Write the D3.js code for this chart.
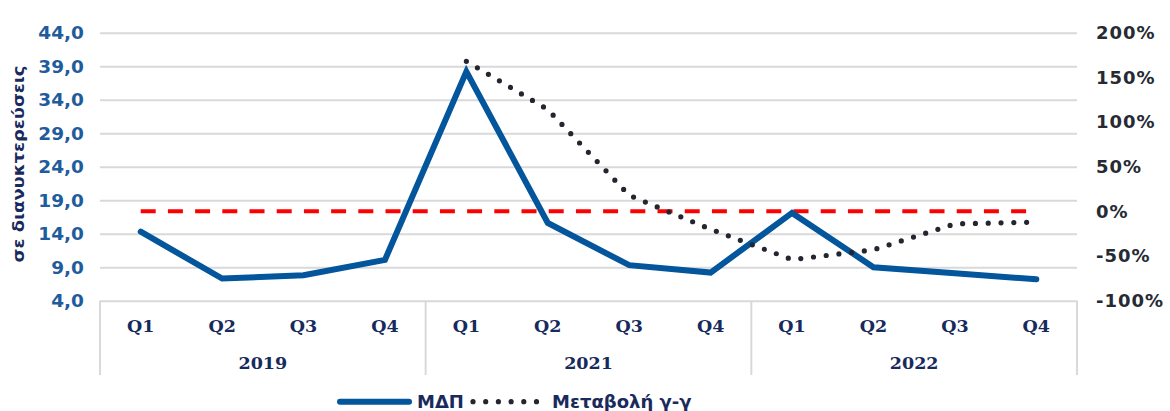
<!DOCTYPE html>
<html>
<head>
<meta charset="utf-8">
<script src="https://cdn.jsdelivr.net/npm/d3@7"></script>
<style>
  html, body { margin: 0; padding: 0; background: #ffffff; }
  svg { display: block; }
</style>
</head>
<body>
<svg id="chart" width="1170" height="411"></svg>
<script>
// ---- data ----
const quarters = ["Q1","Q2","Q3","Q4","Q1","Q2","Q3","Q4","Q1","Q2","Q3","Q4"];
const years = ["2019","2021","2022"];
const mdp = [14.3, 7.3, 7.8, 10.1, 38.2, 15.6, 9.3, 8.2, 17.1, 9.0, 8.1, 7.2];
const yoy = [null, null, null, null, 1.68, 1.14, 0.18, -0.20, -0.54, -0.43, -0.14, -0.12];
const zeroRef = [0, 0, 0, 0, 0, 0, 0, 0, 0, 0, 0, 0];
const leftTicks = [4, 9, 14, 19, 24, 29, 34, 39, 44];
const rightTicks = [-1, -0.5, 0, 0.5, 1, 1.5, 2];
const yTitle = "σε διανυκτερεύσεις";
const legendNames = ["ΜΔΠ", "Μεταβολή γ-γ"];

// ---- layout ----
const L = 100, R = 1077, T = 32.7, B = 300.7;
const svg = d3.select("#chart");
const idx = d3.range(quarters.length);

const x = d3.scaleBand().domain(idx).range([L, R]).padding(0);
const cx = i => x(i) + x.bandwidth() / 2;
const yL = d3.scaleLinear().domain([4, 44]).range([B, T]);
const yR = d3.scaleLinear().domain([-1, 2]).range([B, T]);

const gridColor = "#d9d9d9";

// gridlines
const grid = svg.append("g")
  .attr("transform", `translate(${L},0)`)
  .call(d3.axisLeft(yL).tickValues(leftTicks).tickSize(-(R - L)).tickFormat(""));
grid.select(".domain").remove();
grid.selectAll("line").attr("stroke", gridColor).attr("stroke-width", 2);

// left axis labels
const fmtL = d => d3.format(".1f")(d).replace(".", ",");
const axL = svg.append("g")
  .attr("transform", `translate(${L},0)`)
  .call(d3.axisLeft(yL).tickValues(leftTicks).tickSize(0).tickPadding(16).tickFormat(fmtL));
axL.select(".domain").remove();
axL.selectAll("text")
  .attr("font-family", "'DejaVu Sans', Verdana, sans-serif")
  .attr("font-weight", "bold")
  .attr("font-size", "18.5px")
  .attr("fill", "#1f5c9c");

// right axis labels
const fmtR = d => Math.round(d * 100) + "%";
const axR = svg.append("g")
  .attr("transform", `translate(${R},0)`)
  .call(d3.axisRight(yR).tickValues(rightTicks).tickSize(0).tickPadding(19).tickFormat(fmtR));
axR.select(".domain").remove();
axR.selectAll("text")
  .attr("font-family", "'DejaVu Sans', Verdana, sans-serif")
  .attr("font-weight", "bold")
  .attr("font-size", "18px")
  .attr("letter-spacing", "1px")
  .attr("fill", "#262a33");

// category axis box (multi-level)
const axisBottom = 375;
const seps = [0, 4, 8, 12].map(i => i < 12 ? x(i) : R);
svg.append("g").selectAll("line").data(seps).join("line")
  .attr("x1", d => d).attr("x2", d => d)
  .attr("y1", B).attr("y2", axisBottom)
  .attr("stroke", gridColor).attr("stroke-width", 2);

svg.append("g").selectAll("text").data(idx).join("text")
  .attr("x", cx).attr("y", 332)
  .attr("text-anchor", "middle")
  .attr("font-family", "'DejaVu Serif', serif")
  .attr("font-weight", "bold")
  .attr("font-size", "17.5px")
  .attr("fill", "#172a5c")
  .text(i => quarters[i]);

svg.append("g").selectAll("text").data(years).join("text")
  .attr("x", (d, j) => (x(j * 4) + x(j * 4 + 3) + x.bandwidth()) / 2)
  .attr("y", 369)
  .attr("text-anchor", "middle")
  .attr("font-family", "'DejaVu Serif', serif")
  .attr("font-weight", "bold")
  .attr("font-size", "17.5px")
  .attr("fill", "#172a5c")
  .text(d => d);

// y axis title
svg.append("text")
  .attr("transform", `translate(24,164) rotate(-90)`)
  .attr("text-anchor", "middle")
  .attr("font-family", "'DejaVu Sans', Verdana, sans-serif")
  .attr("font-weight", "bold")
  .attr("font-size", "16px")
  .attr("fill", "#1b2a5c")
  .attr("textLength", 197)
  .attr("lengthAdjust", "spacingAndGlyphs")
  .text(yTitle);

// zero reference (red dashed) on right axis
const lineR = d3.line().defined(d => d[1] != null).x(d => cx(d[0])).y(d => yR(d[1]));
const lineL = d3.line().x(d => cx(d[0])).y(d => yL(d[1]));

svg.append("path")
  .datum(idx.map(i => [i, zeroRef[i]]))
  .attr("d", lineR)
  .attr("fill", "none")
  .attr("stroke", "#ff0000")
  .attr("stroke-width", 4)
  .attr("stroke-dasharray", "15 12.2");

// MDP line
svg.append("path")
  .datum(idx.map(i => [i, mdp[i]]))
  .attr("d", lineL)
  .attr("fill", "none")
  .attr("stroke", "#03559c")
  .attr("stroke-width", 6)
  .attr("stroke-linejoin", "miter")
  .attr("stroke-linecap", "round");

// y-y change dotted
svg.append("path")
  .datum(idx.map(i => [i, yoy[i]]).filter(d => d[1] != null))
  .attr("d", lineR)
  .attr("fill", "none")
  .attr("stroke", "#23262e")
  .attr("stroke-width", 5.2)
  .attr("stroke-linecap", "round")
  .attr("stroke-dasharray", "0 12.8");

// legend
const lg = svg.append("g");
lg.append("line")
  .attr("x1", 340).attr("x2", 409).attr("y1", 401.7).attr("y2", 401.7)
  .attr("stroke", "#03559c").attr("stroke-width", 6).attr("stroke-linecap", "round");
lg.append("text")
  .attr("x", 417).attr("y", 408.3)
  .attr("font-family", "'DejaVu Sans', Verdana, sans-serif")
  .attr("font-weight", "bold").attr("font-size", "18px")
  .attr("fill", "#1b2a5c")
  .text(legendNames[0]);
lg.append("line")
  .attr("x1", 473).attr("x2", 542).attr("y1", 401.7).attr("y2", 401.7)
  .attr("stroke", "#23262e").attr("stroke-width", 5.2)
  .attr("stroke-linecap", "round").attr("stroke-dasharray", "0 12.7");
lg.append("text")
  .attr("x", 552).attr("y", 408.3)
  .attr("font-family", "'DejaVu Sans', Verdana, sans-serif")
  .attr("font-weight", "bold").attr("font-size", "18px")
  .attr("fill", "#1b2a5c")
  .text(legendNames[1]);
</script>
</body>
</html>
